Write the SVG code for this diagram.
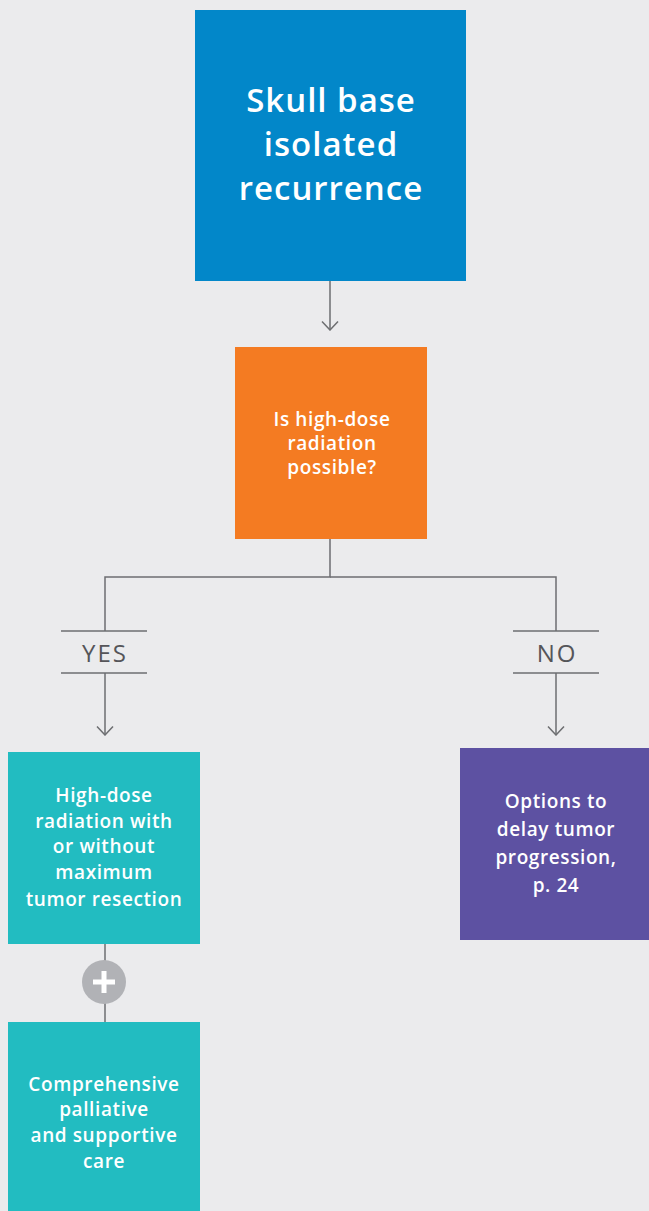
<svg xmlns="http://www.w3.org/2000/svg" width="649" height="1211" viewBox="0 0 649 1211">
  <style>
    .bg { fill: #ebebed; }
    .txt { font-family: "Open Sans", "Liberation Sans", sans-serif; fill: #ffffff; text-anchor: middle; font-weight: 600; }
    .big { font-size: 33px; letter-spacing: 1px; }
    .mid { font-size: 19px; letter-spacing: 0.6px; }
    .conn { stroke: #6d6e71; stroke-width: 1.5; fill: none; }
    .lbl { font-family: "Open Sans", "Liberation Sans", sans-serif; font-size: 24px; letter-spacing: 2px; fill: #555559; text-anchor: middle; }
  </style>
  <defs>
    <marker id="chev" viewBox="0 0 10 18" refX="9" refY="9" markerWidth="10" markerHeight="18" markerUnits="userSpaceOnUse" orient="auto">
      <path d="M0.5 1 L9 9 L0.5 17" fill="none" stroke="#6d6e71" stroke-width="1.5"/>
    </marker>
  </defs>

  <rect class="bg" x="0" y="0" width="649" height="1211"/>

  <g id="connectors">
    <line class="conn" x1="330" y1="281" x2="330" y2="330" marker-end="url(#chev)"/>
    <polyline class="conn" points="330,539 330,577 105,577 105,631"/>
    <polyline class="conn" points="330,577 556,577 556,631"/>
    <line class="conn" x1="61" y1="631" x2="147" y2="631"/>
    <line class="conn" x1="61" y1="673" x2="147" y2="673"/>
    <line class="conn" x1="513" y1="631" x2="599" y2="631"/>
    <line class="conn" x1="513" y1="673" x2="599" y2="673"/>
    <line class="conn" x1="105" y1="673" x2="105" y2="735" marker-end="url(#chev)"/>
    <line class="conn" x1="556" y1="673" x2="556" y2="735" marker-end="url(#chev)"/>
    <line class="conn" x1="105" y1="944" x2="105" y2="1022"/>
    <text class="lbl" x="105" y="662">YES</text>
    <text class="lbl" x="557" y="662">NO</text>
  </g>

  <g id="start">
    <rect x="195" y="10" width="271" height="271" fill="#0287c9"/>
    <text class="txt big" x="331" y="112">Skull base</text>
    <text class="txt big" x="331" y="156">isolated</text>
    <text class="txt big" x="331" y="200">recurrence</text>
  </g>

  <g id="question">
    <rect x="235" y="347" width="192" height="192" fill="#f47b22"/>
    <text class="txt mid" x="332" y="426">Is high-dose</text>
    <text class="txt mid" x="332" y="450">radiation</text>
    <text class="txt mid" x="332" y="474">possible?</text>
  </g>

  <g id="yes-treatment">
    <rect x="8" y="752" width="192" height="192" fill="#22bcc1"/>
    <text class="txt mid" x="104" y="802">High-dose</text>
    <text class="txt mid" x="104" y="828">radiation with</text>
    <text class="txt mid" x="104" y="853">or without</text>
    <text class="txt mid" x="104" y="879">maximum</text>
    <text class="txt mid" x="104" y="906">tumor resection</text>
  </g>

  <g id="plus">
    <circle cx="104" cy="982" r="22" fill="#b1b2b6"/>
    <path d="M104 971 V993 M93 982 H115" stroke="#ffffff" stroke-width="5" fill="none"/>
  </g>

  <g id="palliative">
    <rect x="8" y="1022" width="192" height="195" fill="#22bcc1"/>
    <text class="txt mid" x="104" y="1091">Comprehensive</text>
    <text class="txt mid" x="104" y="1116">palliative</text>
    <text class="txt mid" x="104" y="1142">and supportive</text>
    <text class="txt mid" x="104" y="1168">care</text>
  </g>

  <g id="no-options">
    <rect x="460" y="748" width="192" height="192" fill="#5d51a2"/>
    <text class="txt mid" x="556" y="808">Options to</text>
    <text class="txt mid" x="556" y="836">delay tumor</text>
    <text class="txt mid" x="556" y="864">progression,</text>
    <text class="txt mid" x="556" y="892">p. 24</text>
  </g>
</svg>
